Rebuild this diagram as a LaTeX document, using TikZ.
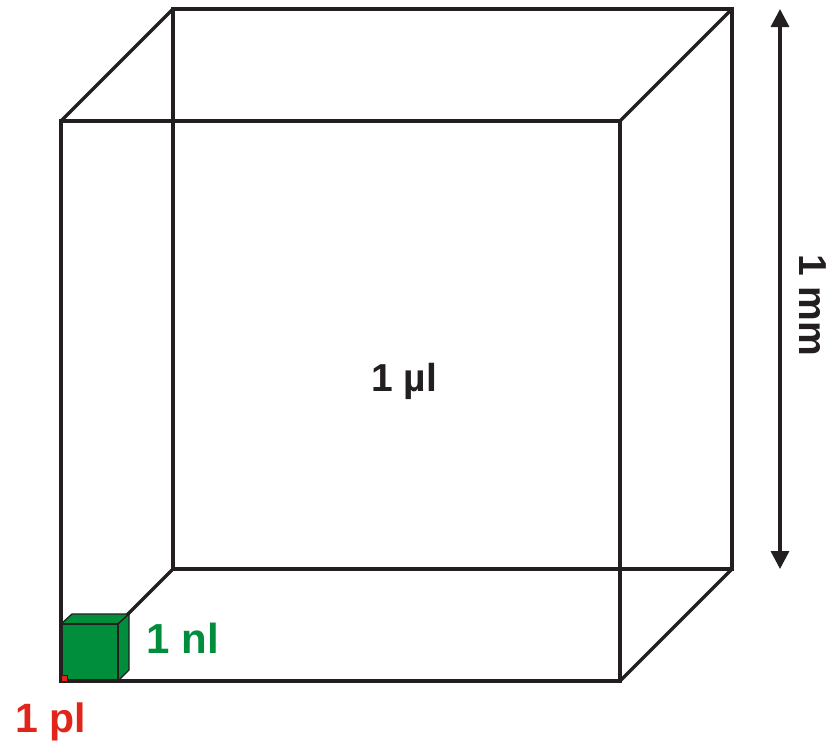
\documentclass[tikz,border=0pt]{standalone}
\usepackage{fontspec}
\setmainfont{Liberation Sans}
\usetikzlibrary{arrows.meta}
\definecolor{edge}{HTML}{231F20}
\definecolor{nlgreen}{HTML}{008D3C}
\definecolor{plred}{HTML}{E1251B}
\tikzset{
  bigedge/.style={draw=edge,line width=3.4pt,line join=miter},
  smalledge/.style={draw=edge,line width=1.3pt,line join=round},
  lbl/.style={font=\bfseries\fontsize{39}{39}\selectfont,inner sep=0pt},
}
\begin{document}
\begin{tikzpicture}[x=1pt,y=-1pt]
\useasboundingbox (0,0) rectangle (836,745);
% big cube corners
\coordinate (fa) at (61,121); \coordinate (fb) at (620,121);
\coordinate (fc) at (620,681); \coordinate (fd) at (61,681);
\coordinate (ba) at (173,9); \coordinate (bb) at (732,9);
\coordinate (bc) at (732,569); \coordinate (bd) at (173,569);
\draw[bigedge] (ba) -- (bb) -- (bc) -- (bd) -- cycle;
\draw[bigedge] (fa) -- (fb) -- (fc) -- (fd) -- cycle;
\draw[bigedge] (fa) -- (ba) (fb) -- (bb) (fc) -- (bc) (fd) -- (bd);
% small green cube
\coordinate (sa) at (61,624); \coordinate (sb) at (118,624);
\coordinate (sc) at (118,681); \coordinate (sd) at (61,681);
\coordinate (ta) at (72,614); \coordinate (tb) at (129,614);
\coordinate (tc) at (129,670);
\filldraw[smalledge,fill=nlgreen] (sa) -- (ta) -- (tb) -- (sb) -- cycle;
\filldraw[smalledge,fill=nlgreen] (sb) -- (tb) -- (tc) -- (sc) -- cycle;
\filldraw[smalledge,fill=nlgreen] (sa) -- (sb) -- (sc) -- (sd) -- cycle;
\draw[bigedge] (fd) -- (fc);
\draw[bigedge] (fd) -- (fa);
% tiny red cube
\filldraw[draw=edge,line width=0.8pt,fill=plred] (61,675) rectangle (67,681);
% dimension arrow
\coordinate (atop) at (780,9); \coordinate (abot) at (780,569);
\draw[draw=edge,line width=3.4pt,{Triangle[length=18pt,width=18pt]}-{Triangle[length=18pt,width=18pt]}] (atop) -- (abot);
% labels
\node[lbl,text=edge] (ul) at (404,381) {1 µl};
\node[lbl,text=edge,rotate=-90] (mm) at (813,305) {1 mm};
\node[lbl,text=nlgreen,font=\bfseries\fontsize{42}{42}\selectfont] (nl) at (183,638) {1 nl};
\node[lbl,text=plred,font=\bfseries\fontsize{41}{41}\selectfont] (pl) at (51,722) {1 pl};
\end{tikzpicture}
\end{document}
